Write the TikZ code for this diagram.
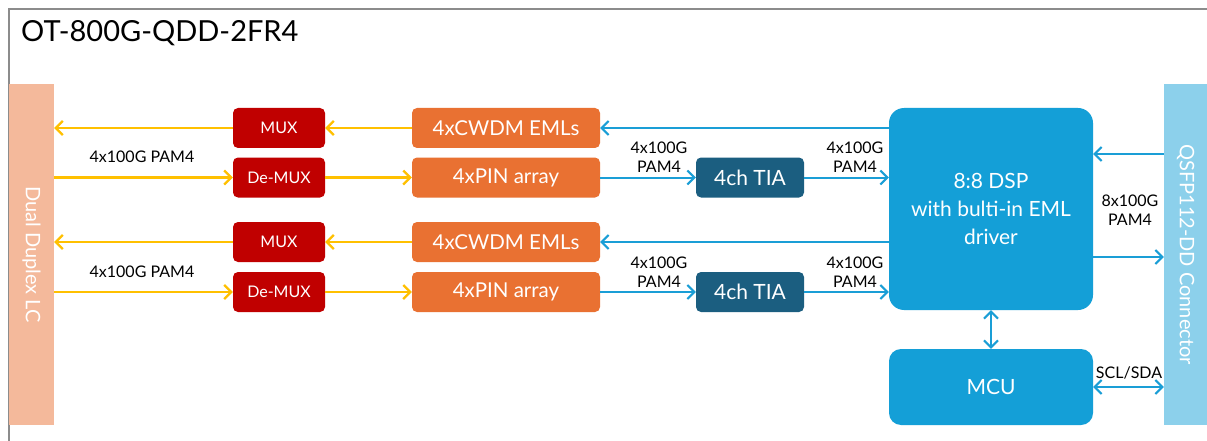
\documentclass[tikz,border=0pt]{standalone}
\usepackage{fontspec}
\setmainfont{Lato}
\usetikzlibrary{arrows.meta}
\definecolor{frame}{HTML}{8C8C8C}
\definecolor{yel}{HTML}{FFC000}
\definecolor{blu}{HTML}{1A9ED6}
\definecolor{muxred}{HTML}{C00000}
\definecolor{org}{HTML}{E97132}
\definecolor{tia}{HTML}{1B5E80}
\definecolor{dsp}{HTML}{149FD7}
\definecolor{lc}{HTML}{F4B99B}
\definecolor{qsfp}{HTML}{8CD0EB}
\tikzset{
  box/.style={draw=none, text=white, inner sep=0pt, align=center},
  muxbox/.style={box, fill=muxred, rounded corners=5pt, minimum width=92pt, minimum height=40pt, font=\fontsize{16}{18}\selectfont},
  orgbox/.style={box, fill=org, rounded corners=5pt, minimum width=188pt, minimum height=40pt, font=\fontsize{20.5}{24}\selectfont},
  tiabox/.style={box, fill=tia, rounded corners=5pt, minimum width=108pt, minimum height=40pt, font=\fontsize{21}{24}\selectfont},
  bigbox/.style={box, fill=dsp, minimum width=204pt, font=\fontsize{21}{28}\selectfont},
  bar/.style={box, minimum height=341pt, font=\fontsize{20}{24}\selectfont},
  yarrow/.style={draw=yel, line width=2.4pt, -{Straight Barb[length=7pt,width=14pt,line width=2.2pt]}},
  barrow/.style={draw=blu, line width=2pt, -{Straight Barb[length=7pt,width=14pt,line width=2pt]}},
  bbarrow/.style={draw=blu, line width=2pt, {Straight Barb[length=7pt,width=14pt,line width=2pt]}-{Straight Barb[length=7pt,width=14pt,line width=2pt]}},
  lbl/.style={text=black, align=center, inner sep=0pt, font=\fontsize{16}{19}\selectfont},
}
\begin{document}
\begin{tikzpicture}[x=1pt,y=-1pt]
\useasboundingbox (0,0) rectangle (1207,441);
\fill[white] (0,0) rectangle (1207,441);
\draw[frame, line width=2pt] (9,441) -- (9,9) -- (1207,9);
\node[anchor=west, inner sep=0pt, font=\fontsize{29}{32}\selectfont] (title) at (21,33) {OT-800G-QDD-2FR4};

\node[bar, fill=lc, minimum width=45pt] (LC) at (31.5,254.5) {};
\node[text=white, rotate=-90, font=\fontsize{20}{24}\selectfont, inner sep=0pt] (LCt) at (LC.center) {Dual Duplex LC};
\node[bar, fill=qsfp, minimum width=43pt] (QSFP) at (1185.5,254.5) {};
\node[text=white, rotate=-90, font=\fontsize{20}{24}\selectfont, inner sep=0pt] (QSFPt) at (QSFP.center) {QSFP112-DD Connector};

\node[muxbox] (MUX1) at (279,128) {MUX};
\node[muxbox] (DMUX1) at (279,177.5) {De-MUX};
\node[muxbox] (MUX2) at (279,242) {MUX};
\node[muxbox] (DMUX2) at (279,292) {De-MUX};

\node[orgbox] (EML1) at (506,128) {4xCWDM EMLs};
\node[orgbox] (PIN1) at (506,177.5) {4xPIN array};
\node[orgbox] (EML2) at (506,242) {4xCWDM EMLs};
\node[orgbox] (PIN2) at (506,292) {4xPIN array};

\node[tiabox] (TIA1) at (750,177.5) {4ch TIA};
\node[tiabox] (TIA2) at (750,292) {4ch TIA};

\node[bigbox, rounded corners=15pt, minimum height=202pt] (DSP) at (991,209) {8:8 DSP\\with bulti-in EML\\driver};
\node[bigbox, rounded corners=12pt, minimum height=76pt] (MCU) at (991,387) {MCU};

% yellow optical arrows
\draw[yarrow] (MUX1.west) -- (LC.east |- MUX1.west);
\draw[yarrow] (EML1.west) -- (MUX1.east);
\draw[yarrow] (LC.east |- DMUX1.west) -- (DMUX1.west);
\draw[yarrow] (DMUX1.east) -- (PIN1.west);
\draw[yarrow] (MUX2.west) -- (LC.east |- MUX2.west);
\draw[yarrow] (EML2.west) -- (MUX2.east);
\draw[yarrow] (LC.east |- DMUX2.west) -- (DMUX2.west);
\draw[yarrow] (DMUX2.east) -- (PIN2.west);

% blue electrical arrows
\draw[barrow] (DSP.west |- EML1.east) -- (EML1.east);
\draw[barrow] (PIN1.east) -- (TIA1.west);
\draw[barrow] (TIA1.east) -- (DSP.west |- TIA1.east);
\draw[barrow] (DSP.west |- EML2.east) -- (EML2.east);
\draw[barrow] (PIN2.east) -- (TIA2.west);
\draw[barrow] (TIA2.east) -- (DSP.west |- TIA2.east);
\draw[barrow] ([yshift=55pt]QSFP.west |- DSP.east) -- ([yshift=55pt]DSP.east);
\draw[barrow] ([yshift=-48pt]DSP.east) -- ([yshift=-48pt]QSFP.west |- DSP.east);
\draw[bbarrow] (DSP.south) -- (MCU.north);
\draw[bbarrow] (MCU.east) -- (QSFP.west |- MCU.east);

% labels
\node[lbl] (l1) at (142,157) {4x100G PAM4};
\node[lbl] (l2) at (142,272) {4x100G PAM4};
\node[lbl] (l3) at (659,157) {4x100G\\PAM4};
\node[lbl] (l4) at (659,272) {4x100G\\PAM4};
\node[lbl] (l5) at (855,157) {4x100G\\PAM4};
\node[lbl] (l6) at (855,272) {4x100G\\PAM4};
\node[lbl] (l7) at (1130,210) {8x100G\\PAM4};
\node[lbl] (l8) at (1129,373) {SCL/SDA};
\end{tikzpicture}
\end{document}
